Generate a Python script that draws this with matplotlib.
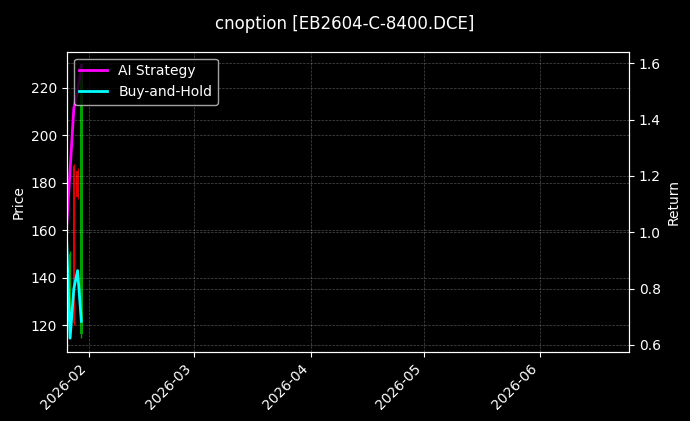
import matplotlib
matplotlib.use("Agg")
import matplotlib.pyplot as plt
import matplotlib.dates as mdates
import pandas as pd

plt.style.use("dark_background")
plt.rcParams['font.family'] = ['DejaVu Sans']

# ---- data ----
title = "cnoption [EB2604-C-8400.DCE]"
line_dates = pd.to_datetime(["2026-01-26", "2026-01-27", "2026-01-28", "2026-01-29", "2026-01-30"])
ai_strategy = [1.00, 1.22, 1.44, 1.50, 1.592]
buy_hold = [1.00, 0.624, 0.80, 0.864, 0.684]

candle_dates = pd.to_datetime(["2026-01-27", "2026-01-28", "2026-01-29", "2026-01-30"])
c_open = [120.0, 187.0, 185.0, 116.0]
c_high = [151.0, 188.0, 186.0, 229.4]
c_low = [118.0, 120.0, 173.0, 114.5]
c_close = [150.0, 121.0, 174.0, 229.4]

x_start = pd.Timestamp("2026-01-26 04:00")
x_end = pd.Timestamp("2026-06-24 14:00")

# ---- figure ----
fig = plt.figure(figsize=(6.9, 4.21), dpi=100, facecolor="black")
ax = fig.add_axes([0.097, 0.1646, 0.8146, 0.7126])
ax.set_facecolor("black")

colors = ["#00a000" if c >= o else "#e00000" for o, c in zip(c_open, c_close)]
ax.vlines(candle_dates, c_low, c_high, colors=colors, linewidth=1)
bottoms = [min(o, c) for o, c in zip(c_open, c_close)]
heights = [abs(c - o) for o, c in zip(c_open, c_close)]
ax.bar(candle_dates, heights, bottom=bottoms, width=0.7, color=colors)

ax.set_ylim(108.75, 235.15)
ax.set_ylabel("Price", fontsize=10)
ax.grid(True, linestyle="--", linewidth=0.5, alpha=0.3)

ax2 = ax.twinx()
ax2.plot(line_dates, ai_strategy, color="#ff00ff", linewidth=2, label="AI Strategy")
ax2.plot(line_dates, buy_hold, color="#00ffff", linewidth=2, label="Buy-and-Hold")
ax2.set_ylim(0.576, 1.641)
ax2.set_ylabel("Return", fontsize=10)
ax2.grid(True, linestyle="--", linewidth=0.5, alpha=0.3)
ax2.legend(loc="upper left", fontsize=10)

ax.set_xlim(x_start, x_end)
ax.xaxis.set_major_locator(mdates.MonthLocator())
ax.xaxis.set_major_formatter(mdates.DateFormatter("%Y-%m"))
for lbl in ax.get_xticklabels():
    lbl.set_rotation(45)
    lbl.set_ha("right")

fig.suptitle(title, fontsize=12, y=0.965)

fig.savefig("out.png", dpi=100, facecolor="black")
